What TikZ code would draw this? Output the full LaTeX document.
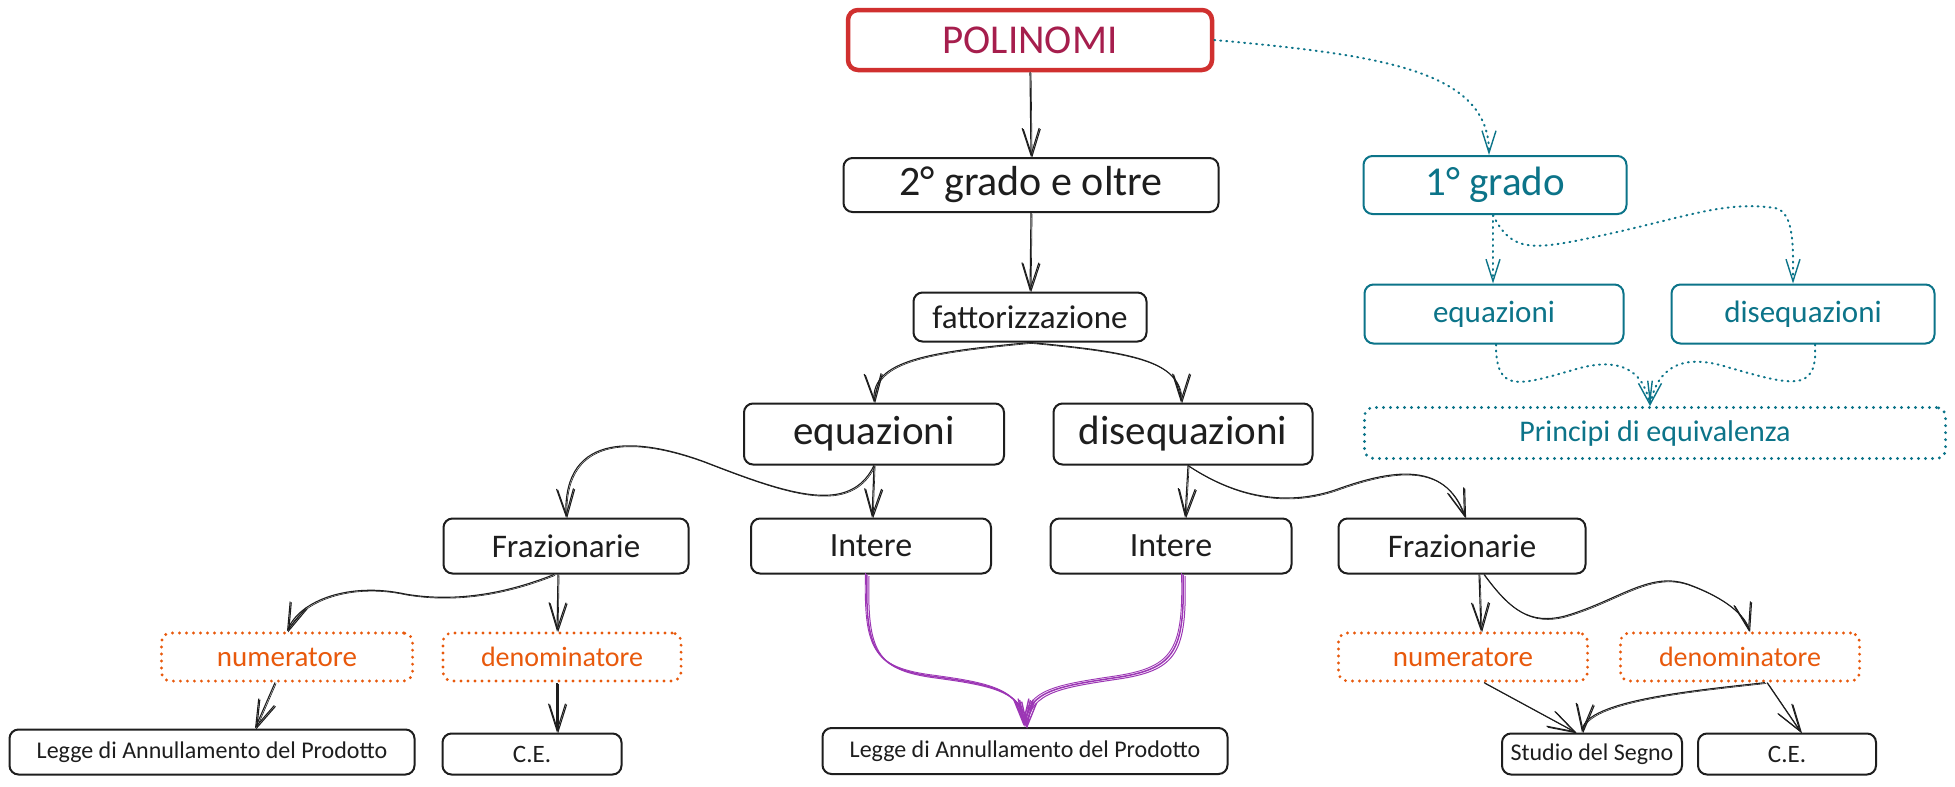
\documentclass[tikz,border=0pt]{standalone}
\usepackage{fontspec}
\setmainfont{Carlito}
\usetikzlibrary{arrows.meta}
\definecolor{ink}{HTML}{1E1E1E}
\definecolor{polred}{HTML}{D0302F}
\definecolor{poltext}{HTML}{A61E4D}
\definecolor{tealc}{HTML}{0C7489}
\definecolor{orangec}{HTML}{E8590C}
\definecolor{purplec}{HTML}{9C36B5}
\newcommand{\fs}[1]{\fontsize{#1}{#1}\selectfont}
\tikzset{
  box/.style={draw=ink, line width=2pt, rounded corners=9pt, inner sep=0pt, text=ink, align=center},
  polbox/.style={draw=polred, line width=4.5pt, rounded corners=10pt, inner sep=0pt, text=poltext},
  tbox/.style={draw=tealc, line width=2pt, rounded corners=9pt, inner sep=0pt, text=tealc},
  tdotbox/.style={draw=tealc, line width=3.2pt, line cap=round, dash pattern=on 0pt off 7pt, rounded corners=9pt, inner sep=0pt, text=tealc},
  odotbox/.style={draw=orangec, line width=3.2pt, line cap=round, dash pattern=on 0pt off 7pt, rounded corners=9pt, inner sep=0pt, text=orangec},
  arr/.style={draw=ink, line width=1.1pt, -{Straight Barb[length=27pt,width=17pt,line width=1.1pt]},
    postaction={draw=ink, line width=0.6pt, transform canvas={xshift=1.1pt,yshift=-0.9pt}}},
  parr/.style={draw=purplec, line width=1.5pt, -{Straight Barb[length=24pt,width=15pt,line width=1.4pt]},
    postaction={draw=purplec, line width=1.0pt, transform canvas={xshift=2pt,yshift=-1.5pt}},
    postaction={draw=purplec, line width=0.9pt, transform canvas={xshift=-1.5pt,yshift=1.5pt}}},
  tarr/.style={draw=tealc, line width=2pt, line cap=round, dash pattern=on 1pt off 5pt, -{Straight Barb[length=22pt,width=14pt,line width=1.4pt]}},
}
\begin{document}
\begin{tikzpicture}[x=1pt,y=-1pt]
\useasboundingbox (0,0) rectangle (1955,787);
\fill[white] (0,0) rectangle (1955,787);
% nodes
\node[polbox, minimum width=364, minimum height=60] (pol) at (1030,40) {\fs{41}POLINOMI};
\node[box, minimum width=375, minimum height=54] (sec) at (1031,185) {\fs{42}2° grado e oltre};
\node[box, minimum width=233, minimum height=49] (fat) at (1030,317) {\fs{33}fattorizzazione};
\node[box, minimum width=260, minimum height=61] (eq) at (874,434) {\fs{41}equazioni};
\node[box, minimum width=259, minimum height=61] (dis) at (1183,434) {\fs{41}disequazioni};
\node[box, minimum width=245, minimum height=55] (frL) at (566,546) {\fs{33}Frazionarie};
\node[box, minimum width=240, minimum height=55] (inL) at (871,546) {\fs{34}Intere};
\node[box, minimum width=241, minimum height=55] (inR) at (1171,546) {\fs{34}Intere};
\node[box, minimum width=247, minimum height=55] (frR) at (1462,546) {\fs{33}Frazionarie};
\node[odotbox, minimum width=251, minimum height=48] (numL) at (287,657) {\fs{29}numeratore};
\node[odotbox, minimum width=238, minimum height=48] (denL) at (562,657) {\fs{28}denominatore};
\node[odotbox, minimum width=249, minimum height=48] (numR) at (1463,657) {\fs{29}numeratore};
\node[odotbox, minimum width=239, minimum height=48] (denR) at (1740,657) {\fs{28}denominatore};
\node[box, minimum width=405, minimum height=45] (legL) at (212,752) {\fs{24}Legge di Annullamento del Prodotto};
\node[box, minimum width=179, minimum height=41] (ceL) at (532,754) {\fs{25}C.E.};
\node[box, minimum width=405, minimum height=46] (legM) at (1025,751) {\fs{24}Legge di Annullamento del Prodotto};
\node[box, minimum width=180, minimum height=41] (stu) at (1592,754) {\fs{24}Studio del Segno};
\node[box, minimum width=178, minimum height=41] (ceR) at (1787,754) {\fs{25}C.E.};
\node[tbox, minimum width=263, minimum height=58] (one) at (1495,185) {\fs{41}1° grado};
\node[tbox, minimum width=259, minimum height=59] (eqT) at (1494,314) {\fs{31}equazioni};
\node[tbox, minimum width=263, minimum height=59] (disT) at (1803,314) {\fs{31}disequazioni};
\node[tdotbox, minimum width=581, minimum height=51] (pri) at (1655,433) {\fs{30}Principi di equivalenza};
% black connectors
\draw[arr] (pol.south) -- (sec.north);
\draw[arr] (sec.south) -- (fat.north);
\draw[arr] (fat.south) .. controls (930,352) and (872,360) .. (eq.north);
\draw[arr] (fat.south) .. controls (1130,352) and (1181,360) .. ([xshift=-2]dis.north);
\draw[arr] (eq.south) .. controls (850,515) and (790,495) .. (705,462) .. controls (640,438) and (563,430) .. (frL.north);
\draw[arr] (eq.south) -- ([xshift=1]inL.north);
\draw[arr] ([xshift=5]dis.south) -- ([xshift=14]inR.north);
\draw[arr] ([xshift=5]dis.south) .. controls (1240,500) and (1290,505) .. (1335,490) .. controls (1390,470) and (1445,460) .. ([xshift=3]frR.north);
\draw[arr] ([xshift=-12]frL.south) .. controls (490,600) and (440,600) .. (405,594) .. controls (350,582) and (300,600) .. (numL.north);
\draw[arr] ([xshift=-8]frL.south) -- ([xshift=-5]denL.north);
\draw[arr] ([xshift=-12]numL.south) -- ([xshift=43]legL.north);
\draw[arr] ([xshift=-5]denL.south) -- ([xshift=25]ceL.north);
% purple
\draw[parr] ([xshift=-4]inL.south) .. controls (865,650) and (875,668) .. (930,676) .. controls (990,684) and (1022,690) .. (legM.north);
\draw[parr] ([xshift=12]inR.south) .. controls (1185,650) and (1175,668) .. (1120,677) .. controls (1060,686) and (1028,690) .. (legM.north);
% right side
\draw[arr] ([xshift=17]frR.south) -- ([xshift=18]numR.north);
\draw[arr] ([xshift=22]frR.south) .. controls (1510,610) and (1530,625) .. (1565,616) .. controls (1620,600) and (1650,570) .. (1690,585) .. controls (1725,598) and (1745,615) .. ([xshift=9]denR.north);
\draw[arr] ([xshift=21]numR.south) -- ([xshift=-16]stu.north);
\draw[arr] ([xshift=25]denR.south) .. controls (1700,690) and (1585,700) .. ([xshift=-10]stu.north);
\draw[arr] ([xshift=27]denR.south) -- ([xshift=14]ceR.north);
% teal dotted
\draw[tarr] (pol.east) .. controls (1380,55) and (1489,70) .. ([xshift=-6]one.north);
\draw[tarr] ([xshift=-2]one.south) -- ([xshift=-1]eqT.north);
\draw[tarr] ([xshift=-2]one.south) .. controls (1510,250) and (1530,250) .. (1580,240) .. controls (1680,220) and (1720,200) .. (1775,208) .. controls (1795,212) and (1793,250) .. ([xshift=-10]disT.north);
\draw[tarr] ([xshift=2]eqT.south) .. controls (1496,395) and (1520,385) .. (1580,368) .. controls (1630,355) and (1645,380) .. ([xshift=-5]pri.north);
\draw[tarr] ([xshift=12]disT.south) .. controls (1818,395) and (1790,385) .. (1720,365) .. controls (1670,352) and (1655,380) .. ([xshift=-5]pri.north);
\end{tikzpicture}
\end{document}
